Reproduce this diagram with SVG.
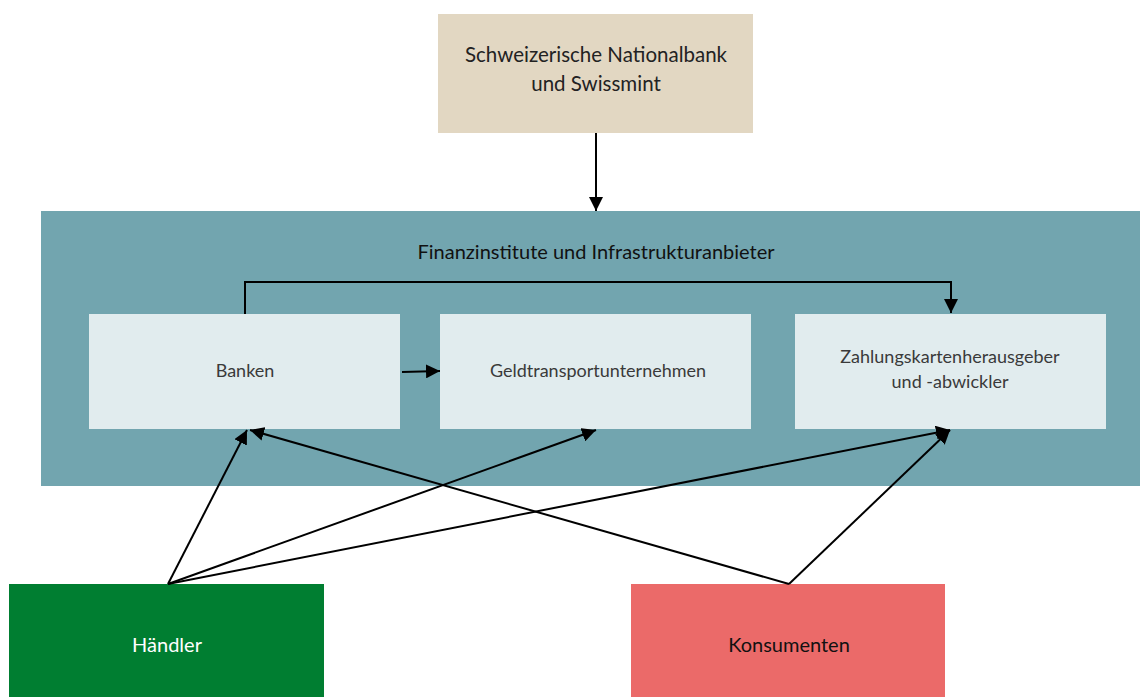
<svg xmlns="http://www.w3.org/2000/svg" width="1140" height="697" viewBox="0 0 1140 697">
<style>
text{font-family:Lato,"Liberation Sans",sans-serif;text-anchor:middle}
.inner{fill:#e1ecee}
.it{font-size:18px;fill:#3a3a3a}
.c{stroke:#000;stroke-width:2;fill:none}
</style>
<defs>
<marker id="ah" viewBox="0 0 10 10" refX="10" refY="5" markerWidth="7" markerHeight="7" markerUnits="strokeWidth" orient="auto"><path d="M0,0L10,5L0,10z" fill="#000"/></marker>
</defs>
<rect width="1140" height="697" fill="#fff"/>
<g id="container">
<rect x="41" y="211" width="1099" height="275" fill="#72a5af"/>
<text x="596" y="259" font-size="20" fill="#111">Finanzinstitute und Infrastrukturanbieter</text>
</g>
<g id="snb">
<rect x="438" y="14" width="315" height="119" fill="#e2d7c2"/>
<text x="596" y="62" font-size="20.5" fill="#222">Schweizerische Nationalbank</text>
<text x="596" y="91" font-size="20.5" fill="#222">und Swissmint</text>
</g>
<g id="banken">
<rect class="inner" x="89" y="314" width="311" height="115"/>
<text class="it" x="245" y="377">Banken</text>
</g>
<g id="geld">
<rect class="inner" x="440" y="314" width="311" height="115"/>
<text class="it" x="598" y="377">Geldtransportunternehmen</text>
</g>
<g id="zahlung">
<rect class="inner" x="795" y="314" width="311" height="115"/>
<text class="it" x="950" y="363">Zahlungskartenherausgeber</text>
<text class="it" x="950" y="388">und -abwickler</text>
</g>
<g id="haendler">
<rect x="9" y="584" width="315" height="113" fill="#007e31"/>
<text x="167" y="652" font-size="20" fill="#fff">Händler</text>
</g>
<g id="konsumenten">
<rect x="631" y="584" width="314" height="113" fill="#eb6a69"/>
<text x="789" y="652" font-size="20" fill="#111">Konsumenten</text>
</g>
<g id="connectors">
<path class="c" d="M596,133V211" marker-end="url(#ah)"/>
<path class="c" d="M402,372L440,371" marker-end="url(#ah)"/>
<path class="c" d="M245,314V282H951V313" marker-end="url(#ah)"/>
<path class="c" d="M168,584L247,430" marker-end="url(#ah)"/>
<path class="c" d="M168,584L596,430" marker-end="url(#ah)"/>
<path class="c" d="M168,584L950,430" marker-end="url(#ah)"/>
<path class="c" d="M789,584L250,430" marker-end="url(#ah)"/>
<path class="c" d="M789,584L950,430" marker-end="url(#ah)"/>
</g>
</svg>
